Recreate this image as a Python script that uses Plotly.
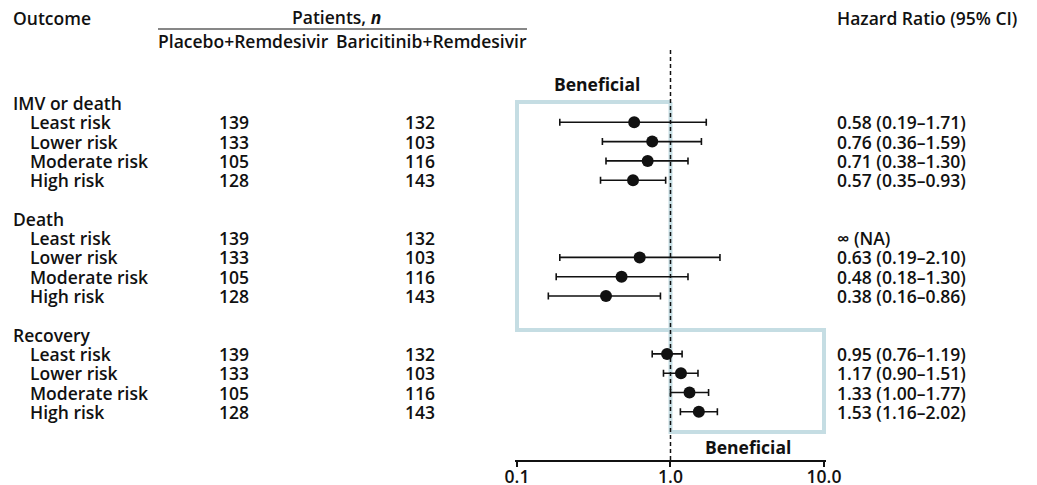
import plotly.graph_objects as go

# ---------------- data ----------------
outcomes = ["IMV or death", "Death", "Recovery"]
risk_groups = ["Least risk", "Lower risk", "Moderate risk", "High risk"]
n_placebo = [139, 133, 105, 128]
n_baricitinib = [132, 103, 116, 143]

hr_imv = [0.58, 0.76, 0.71, 0.57]
lo_imv = [0.19, 0.36, 0.38, 0.35]
hi_imv = [1.71, 1.59, 1.30, 0.93]

hr_death = [None, 0.63, 0.48, 0.38]
lo_death = [None, 0.19, 0.18, 0.16]
hi_death = [None, 2.10, 1.30, 0.86]

hr_rec = [0.95, 1.17, 1.33, 1.53]
lo_rec = [0.76, 0.90, 1.00, 1.16]
hi_rec = [1.19, 1.51, 1.77, 2.02]

hr_labels_imv = ["0.58 (0.19–1.71)", "0.76 (0.36–1.59)", "0.71 (0.38–1.30)", "0.57 (0.35–0.93)"]
hr_labels_death = ["∞ (NA)", "0.63 (0.19–2.10)", "0.48 (0.18–1.30)", "0.38 (0.16–0.86)"]
hr_labels_rec = ["0.95 (0.76–1.19)", "1.17 (0.90–1.51)", "1.33 (1.00–1.77)", "1.53 (1.16–2.02)"]

tick_vals = [0.1, 1.0, 10.0]
tick_text = ["0.1", "1.0", "10.0"]

# ---------------- layout helpers ----------------
OFF = 8                      # default page body margin
W, H = 1037 - OFF, 485 - OFF  # figure size
FONT = "Open Sans"
FS = 17.5
WEIGHT = 600
TXT = "#111111"
BOX = "#c5dde3"

row0_px, row_step = 103.0, 19.3
axis_px = 460.5


def row_of(page_y):
    return (page_y - row0_px) / row_step


y_top = row_of(OFF)
y_bot = row_of(485)
y_axis = row_of(axis_px)
y_ticklab = row_of(479)
pad = 0.015
dec_px = (824 - 517) / 2.0
dom_l = (517 - pad * dec_px - OFF) / W
dom_r = (824 + pad * dec_px - OFF) / W


def px(x):
    return (x - OFF) / W


def py(y):
    return 1 - (y - OFF) / H


groups = [
    (hr_imv, lo_imv, hi_imv, hr_labels_imv),
    (hr_death, lo_death, hi_death, hr_labels_death),
    (hr_rec, lo_rec, hi_rec, hr_labels_rec),
]

fig = go.Figure()
annotations = []

# "beneficial" boxes (drawn first)
fig.add_trace(go.Scatter(x=[1.0, 0.1, 0.1, 1.0, 1.0], y=[-0.05, -0.05, 11.76, 11.76, -0.05],
                         mode="lines", line=dict(color=BOX, width=4), hoverinfo="skip",
                         showlegend=False))
fig.add_trace(go.Scatter(x=[1.0, 10.0, 10.0, 1.0, 1.0], y=[11.76, 11.76, 17.05, 17.05, 11.76],
                         mode="lines", line=dict(color=BOX, width=4), hoverinfo="skip",
                         showlegend=False))
# reference line at HR = 1
fig.add_trace(go.Scatter(x=[1.0, 1.0], y=[row_of(50), y_axis], mode="lines",
                         line=dict(color="#111111", width=1.5, dash="4px,3px"),
                         hoverinfo="skip", showlegend=False))

txt_font = dict(family=FONT, size=FS, color=TXT, weight=WEIGHT)


def ann(x, y, text, xanchor="left", xref="paper", yref="y"):
    return dict(x=x, y=y, xref=xref, yref=yref, text=text, showarrow=False,
                xanchor=xanchor, yanchor="middle", font=txt_font, borderpad=0)


row = 0
for gi, (name, (hr, lo, hi, labs)) in enumerate(zip(outcomes, groups)):
    annotations.append(ann(px(12), row, name))
    ys = []
    for k, rg in enumerate(risk_groups):
        r = row + 1 + k
        ys.append(r)
        annotations.append(ann(px(29), r, rg))
        annotations.append(ann(px(234), r, str(n_placebo[k]), "center"))
        annotations.append(ann(px(420), r, str(n_baricitinib[k]), "center"))
        annotations.append(ann(px(836), r, labs[k]))
    xs, yy, ep, em = [], [], [], []
    for k in range(4):
        if hr[k] is None:
            continue
        xs.append(hr[k]); yy.append(ys[k])
        ep.append(hi[k] - hr[k]); em.append(hr[k] - lo[k])
    fig.add_trace(go.Scatter(
        x=xs, y=yy, mode="markers",
        marker=dict(color="#111111", size=12, line=dict(width=0)),
        error_x=dict(type="data", symmetric=False, array=ep, arrayminus=em,
                     color="#111111", thickness=1.6, width=3.5),
        showlegend=False, hoverinfo="skip", cliponaxis=False))
    row += 6

# x tick labels drawn as text at the tick values (just below the axis line)
fig.add_trace(go.Scatter(x=tick_vals, y=[y_ticklab] * len(tick_vals), mode="text",
                         text=tick_text, textposition="middle center", textfont=txt_font,
                         cliponaxis=False, hoverinfo="skip", showlegend=False))

# headers
annotations += [
    ann(px(12), py(18), "Outcome", yref="paper"),
    ann(px(336), py(17), "Patients, <b><i>n</i></b>", "center", yref="paper"),
    ann(px(157), py(41), "Placebo+Remdesivir", yref="paper"),
    ann(px(528), py(41), "Baricitinib+Remdesivir", "right", yref="paper"),
    ann(px(836), py(18), "Hazard Ratio (95% CI)", yref="paper"),
    ann(px(597), py(84), "<b>Beneficial</b>", "center", yref="paper"),
    ann(px(748), py(447), "<b>Beneficial</b>", "center", yref="paper"),
]

shapes = [dict(type="line", xref="paper", yref="paper", x0=px(158), x1=px(527),
               y0=py(29), y1=py(29), line=dict(color="#111111", width=1.2))]

fig.update_layout(
    width=W, height=H, margin=dict(l=0, r=0, t=0, b=0),
    paper_bgcolor="white", plot_bgcolor="white",
    showlegend=False, annotations=annotations, shapes=shapes,
    xaxis=dict(type="log", range=[-1 - pad, 1 + pad], domain=[dom_l, dom_r],
               anchor="free", position=py(axis_px),
               tickvals=tick_vals, ticktext=tick_text, showticklabels=False,
               ticks="outside", ticklen=6,
               tickwidth=1.5, tickcolor="#111111", showline=True, linecolor="#111111",
               linewidth=1.5, showgrid=False, zeroline=False, automargin=False),
    yaxis=dict(range=[y_bot, y_top], domain=[0, 1], visible=False,
               showgrid=False, zeroline=False, fixedrange=True),
)

fig.write_html("out.html")
